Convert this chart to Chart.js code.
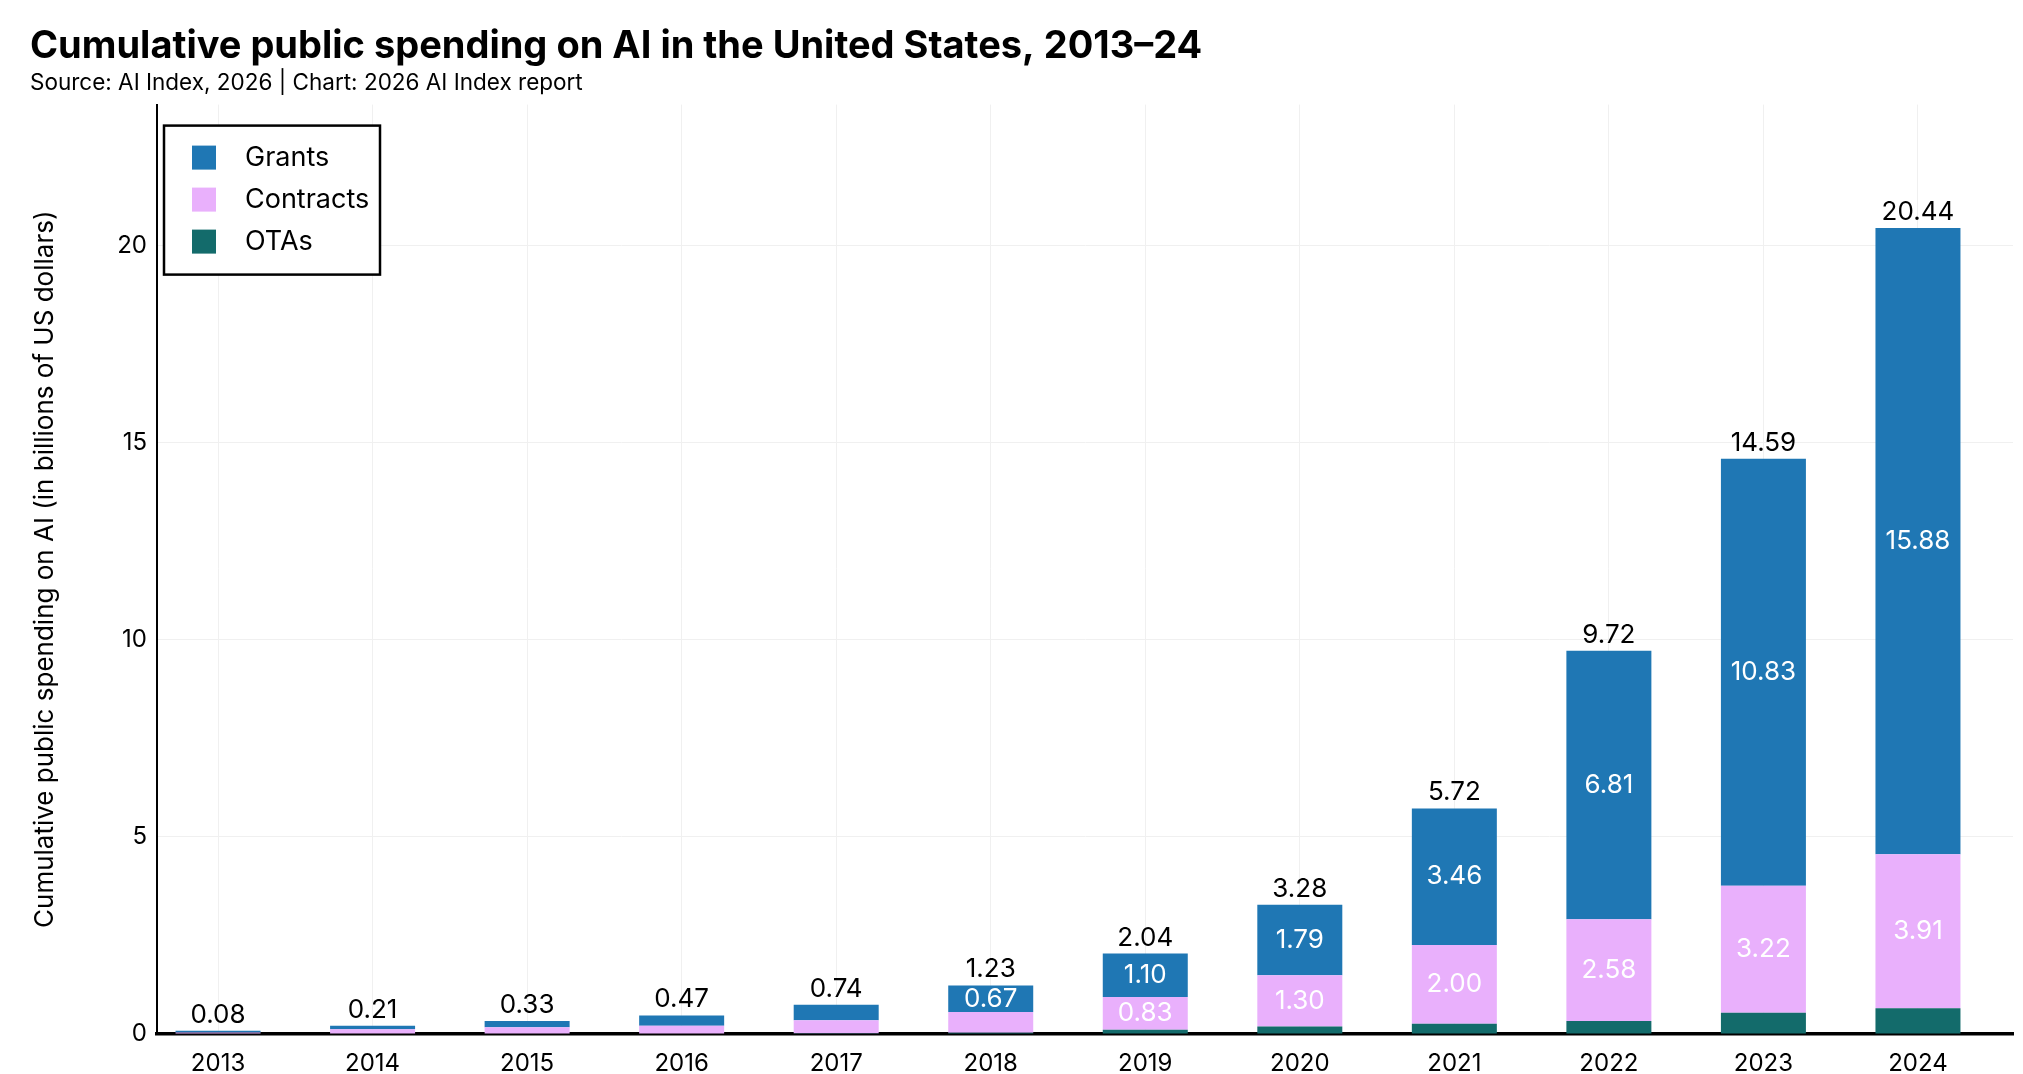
<!DOCTYPE html>
<html>
<head>
<meta charset="utf-8">
<script src="https://cdn.jsdelivr.net/npm/chart.js@4.4.1/dist/chart.umd.min.js"></script>
<style>
  html, body { margin: 0; padding: 0; background: #fff; }
  canvas { display: block; }
</style>
</head>
<body>
<canvas id="chart" width="2023" height="1074"></canvas>
<script>
// Data (billions of US dollars, cumulative)
const years = [2013, 2014, 2015, 2016, 2017, 2018, 2019, 2020, 2021, 2022, 2023, 2024];
const grants =    [0.04, 0.09, 0.16, 0.26, 0.39, 0.67, 1.10, 1.79, 3.46, 6.81, 10.83, 15.88];
const contracts = [0.04, 0.11, 0.16, 0.20, 0.33, 0.53, 0.83, 1.30, 2.00, 2.58, 3.22, 3.91];
const otas =      [0.00, 0.01, 0.01, 0.01, 0.02, 0.03, 0.11, 0.19, 0.26, 0.33, 0.54, 0.65];
const totals =    [0.08, 0.21, 0.33, 0.47, 0.74, 1.23, 2.04, 3.28, 5.72, 9.72, 14.59, 20.44];
const yTicks = [0, 5, 10, 15, 20];

const FONT = 'Inter, "Noto Sans", sans-serif';
const colors = { grants: '#1f77b4', contracts: '#e9b0fc', otas: '#136b6b' };

Chart.defaults.font.family = FONT;
Chart.defaults.color = '#000';

function toPoints(arr) {
    return arr.map((v, i) => ({ x: years[i], y: v }));
}

// Value labels inside segments (grants and contracts only) and totals on top
const barLabels = {
    id: 'barLabels',
    afterDatasetsDraw(chart) {
        const ctx = chart.ctx;
        ctx.save();
        ctx.font = '400 26px ' + FONT;
        ctx.textAlign = 'center';
        chart.data.datasets.forEach((ds, di) => {
            if (!ds.showValues) return;
            const meta = chart.getDatasetMeta(di);
            meta.data.forEach((bar, i) => {
                const v = ds.data[i].y;
                if (v >= 0.6) {
                    ctx.fillStyle = '#fff';
                    ctx.textBaseline = 'middle';
                    ctx.fillText(v.toFixed(2), bar.x, (bar.y + bar.base) / 2);
                }
            });
        });
        // totals above the top segment
        const topMeta = chart.getDatasetMeta(chart.data.datasets.length - 1);
        topMeta.data.forEach((bar, i) => {
            ctx.fillStyle = '#000';
            ctx.textBaseline = 'alphabetic';
            ctx.fillText(totals[i].toFixed(2), bar.x, bar.y - 8);
        });
        ctx.restore();
    }
};

// Boxed legend inside the plot, top-left
const boxLegend = {
    id: 'boxLegend',
    afterDraw(chart) {
        const ctx = chart.ctx;
        const area = chart.chartArea;
        const x0 = area.left + 7, y0 = area.top + 21, w = 216, h = 149;
        ctx.save();
        ctx.fillStyle = '#fff';
        ctx.fillRect(x0, y0, w, h);
        ctx.strokeStyle = '#000';
        ctx.lineWidth = 2.5;
        ctx.strokeRect(x0, y0, w, h);
        const items = chart.data.datasets.slice().reverse();
        ctx.font = '400 27px ' + FONT;
        ctx.textBaseline = 'middle';
        ctx.textAlign = 'left';
        items.forEach((ds, k) => {
            const cy = y0 + 32 + k * 42;
            ctx.fillStyle = ds.backgroundColor;
            ctx.fillRect(x0 + 28, cy - 12, 24, 24);
            ctx.fillStyle = '#000';
            ctx.fillText(ds.label, x0 + 81, cy);
        });
        ctx.restore();
    }
};

const ctx = document.getElementById('chart').getContext('2d');
new Chart(ctx, {
    type: 'bar',
    data: {
        datasets: [
            { label: 'OTAs', data: toPoints(otas), backgroundColor: colors.otas, borderWidth: 0, showValues: false },
            { label: 'Contracts', data: toPoints(contracts), backgroundColor: colors.contracts, borderWidth: 0, showValues: true },
            { label: 'Grants', data: toPoints(grants), backgroundColor: colors.grants, borderWidth: 0, showValues: true }
        ]
    },
    options: {
        responsive: false,
        animation: false,
        devicePixelRatio: 1,
        barPercentage: 0.55,
        categoryPercentage: 1.0,
        layout: { padding: { left: 30, right: 10, top: 0, bottom: 0 } },
        scales: {
            x: {
                type: 'linear',
                stacked: true,
                offset: false,
                min: 2012.605,
                max: 2024.615,
                afterBuildTicks(scale) {
                    scale.ticks = years.map(y => ({ value: y }));
                },
                afterFit(scale) { scale.height = 40; },
                ticks: {
                    font: { size: 24 },
                    padding: 15,
                    callback: v => String(v)
                },
                grid: { color: '#f0f0f0', lineWidth: 1, drawTicks: false, offset: false },
                border: { color: '#000', width: 3.5 }
            },
            y: {
                stacked: true,
                min: 0,
                max: 23.57,
                afterBuildTicks(scale) {
                    scale.ticks = yTicks.map(v => ({ value: v }));
                },
                afterFit(scale) { scale.width = 127; },
                ticks: { font: { size: 24 }, padding: 10 },
                grid: { color: '#f0f0f0', lineWidth: 1, drawTicks: false },
                border: { color: '#000', width: 2 },
                title: {
                    display: true,
                    text: 'Cumulative public spending on AI (in billions of US dollars)',
                    font: { size: 26 },
                    padding: { top: 0, bottom: 0 }
                }
            }
        },
        plugins: {
            legend: { display: false },
            tooltip: { enabled: false },
            title: {
                display: true,
                text: 'Cumulative public spending on AI in the United States, 2013–24',
                align: 'start',
                font: { size: 38, weight: 'bold' },
                padding: { top: 24, bottom: 0 }
            },
            subtitle: {
                display: true,
                text: 'Source: AI Index, 2026 | Chart: 2026 AI Index report',
                align: 'start',
                font: { size: 22.5 },
                padding: { top: 0, bottom: 8 }
            }
        }
    },
    plugins: [barLabels, boxLegend]
});
</script>
</body>
</html>
